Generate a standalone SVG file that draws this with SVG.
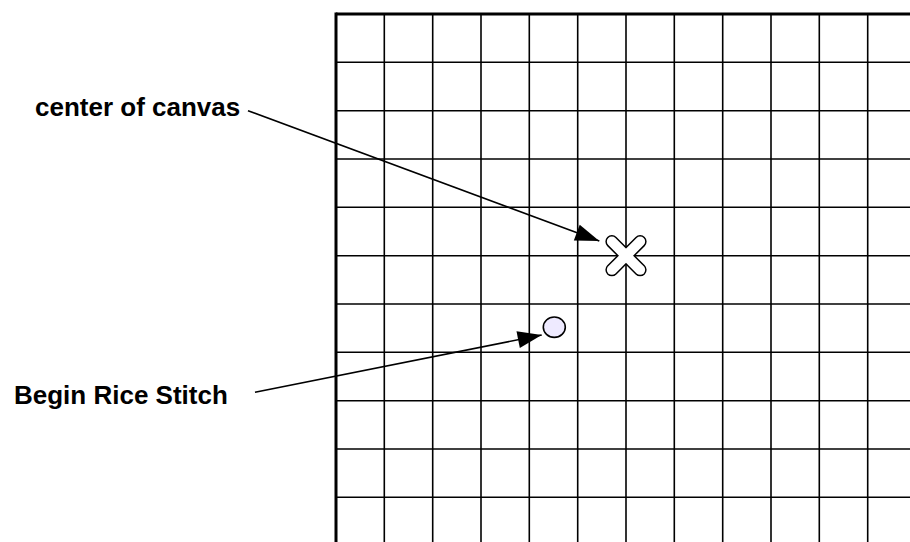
<svg xmlns="http://www.w3.org/2000/svg" width="910" height="542" viewBox="0 0 910 542">
<style>
.grid{stroke:#000;stroke-width:1.6;fill:none}
.frame{stroke:#000;stroke-width:3;fill:none}
.lbl{font-family:"Liberation Sans",Arial,sans-serif;font-weight:bold;font-size:26px;fill:#000}
.conn{stroke:#000;stroke-width:1.6;fill:none}
</style>
<defs>
<marker id="ah" markerUnits="userSpaceOnUse" markerWidth="30" markerHeight="24" viewBox="-26 -12 30 24" refX="0" refY="0" orient="auto">
<path d="M0,0 L-24,-8.5 L-24,8.5 Z" fill="#000"/>
</marker>
</defs>
<rect width="910" height="542" fill="#fff"/>
<g id="grid">
<g class="grid">
<line x1="384.3" y1="14" x2="384.3" y2="542"/>
<line x1="432.7" y1="14" x2="432.7" y2="542"/>
<line x1="481" y1="14" x2="481" y2="542"/>
<line x1="529.3" y1="14" x2="529.3" y2="542"/>
<line x1="577.7" y1="14" x2="577.7" y2="542"/>
<line x1="626" y1="14" x2="626" y2="542"/>
<line x1="674.3" y1="14" x2="674.3" y2="542"/>
<line x1="722.7" y1="14" x2="722.7" y2="542"/>
<line x1="771" y1="14" x2="771" y2="542"/>
<line x1="819.3" y1="14" x2="819.3" y2="542"/>
<line x1="867.7" y1="14" x2="867.7" y2="542"/>
<line x1="336" y1="62.3" x2="910" y2="62.3"/>
<line x1="336" y1="110.7" x2="910" y2="110.7"/>
<line x1="336" y1="159" x2="910" y2="159"/>
<line x1="336" y1="207.3" x2="910" y2="207.3"/>
<line x1="336" y1="255.7" x2="910" y2="255.7"/>
<line x1="336" y1="304" x2="910" y2="304"/>
<line x1="336" y1="352.3" x2="910" y2="352.3"/>
<line x1="336" y1="400.7" x2="910" y2="400.7"/>
<line x1="336" y1="449" x2="910" y2="449"/>
<line x1="336" y1="497.3" x2="910" y2="497.3"/>
</g>
<g class="frame">
<line x1="336" y1="12.5" x2="336" y2="542"/>
<line x1="336" y1="14" x2="910" y2="14"/>
</g>
</g>
<g id="center-mark" transform="translate(626,255.7)">
<g stroke="#000" stroke-width="3" fill="#fff">
<rect x="-25" y="-5" width="50" height="10" rx="5" transform="rotate(45)"/>
<rect x="-25" y="-5" width="50" height="10" rx="5" transform="rotate(-45)"/>
</g>
<g fill="#fff" stroke="none">
<rect x="-25" y="-5" width="50" height="10" rx="5" transform="rotate(45)"/>
<rect x="-25" y="-5" width="50" height="10" rx="5" transform="rotate(-45)"/>
</g>
</g>
<g id="begin-point">
<ellipse cx="554.3" cy="327.2" rx="11" ry="10.2" fill="#eeeaff" stroke="#000" stroke-width="1.6"/>
</g>
<g id="label-center">
<text class="lbl" x="35" y="116">center of canvas</text>
</g>
<g id="label-begin">
<text class="lbl" x="14" y="404">Begin Rice Stitch</text>
</g>
<g id="connectors">
<line class="conn" x1="248" y1="110.7" x2="599.3" y2="241" marker-end="url(#ah)"/>
<line class="conn" x1="255" y1="392.3" x2="541.7" y2="335" marker-end="url(#ah)"/>
</g>
</svg>
